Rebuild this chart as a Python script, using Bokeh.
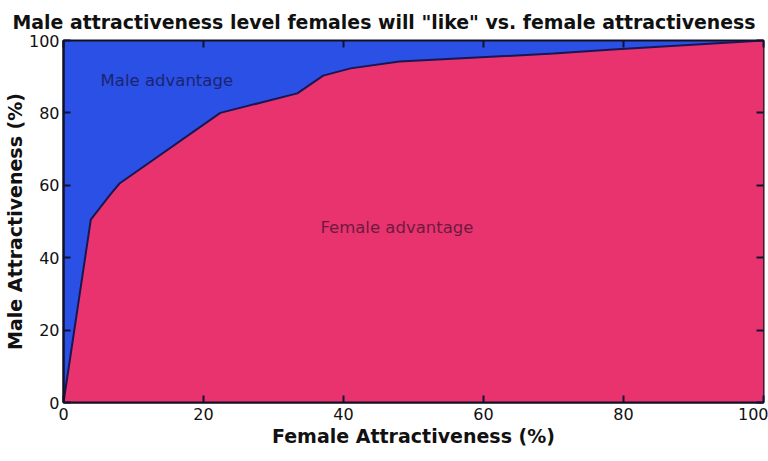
from bokeh.plotting import figure
from bokeh.models import LinearAxis, Range1d, FixedTicker, Label
from bokeh.embed import file_html
from bokeh.resources import INLINE

female_attr = [0, 3.9, 6.7, 8.0, 22.4, 33.4, 37.1, 41.0, 48.0, 70.0, 78.5, 100]
male_attr = [0, 50.5, 57.5, 60.5, 80.0, 85.4, 90.3, 92.3, 94.2, 96.4, 97.5, 100]
ticks = [0, 20, 40, 60, 80, 100]

BLUE = "#2a50e6"
PINK = "#e9336f"
LINE = "#1a1650"
FONT = "DejaVu Sans"

p = figure(width=768, height=461, output_backend="svg", toolbar_location=None,
           x_range=Range1d(0, 100), y_range=Range1d(0, 100),
           title='Male attractiveness level females will "like" vs. female attractiveness')
p.min_border_left = 63
p.min_border_right = 5
p.min_border_top = 8
p.min_border_bottom = 59
p.background_fill_color = BLUE
p.border_fill_color = "white"

p.title.text_font = FONT
p.title.text_font_size = "18.9px"
p.title.text_font_style = "bold"
p.title.align = "left"
p.title.offset = -51
p.title.text_color = "#111111"
p.title.standoff = 16

p.varea(x=female_attr, y1=[0] * len(male_attr), y2=male_attr, fill_color=PINK)
p.line(female_attr, male_attr, line_color=LINE, line_width=2)

p.grid.visible = False
p.outline_line_color = "#111122"
p.outline_line_width = 2

for ax in [p.xaxis[0], p.yaxis[0]]:
    ax.ticker = FixedTicker(ticks=ticks)
    ax.major_tick_in = 7
    ax.major_tick_out = 0
    ax.minor_tick_line_color = None
    ax.axis_line_color = "#111122"
    ax.axis_line_width = 2
    ax.major_tick_line_color = "#111133"
    ax.major_tick_line_width = 2
    ax.major_label_text_font = FONT
    ax.major_label_text_font_size = "16px"
    ax.major_label_text_color = "#111111"
    ax.axis_label_text_font = FONT
    ax.axis_label_text_font_size = "19px"
    ax.axis_label_text_font_style = "bold"
    ax.axis_label_text_color = "#111111"

p.xaxis[0].axis_label = "Female Attractiveness (%)"
p.yaxis[0].axis_label = "Male Attractiveness (%)"
p.xaxis[0].axis_label_standoff = 2
p.yaxis[0].axis_label_standoff = 0
p.xaxis[0].major_label_standoff = 5
p.yaxis[0].major_label_standoff = 4

blank = {t: "" for t in ticks}
top = LinearAxis(ticker=FixedTicker(ticks=ticks), major_label_overrides=blank,
                 major_label_standoff=0,
                 major_tick_in=7, major_tick_out=0, minor_tick_line_color=None,
                 axis_line_color=None, major_tick_line_color="#111133", major_tick_line_width=2)
right = LinearAxis(ticker=FixedTicker(ticks=ticks), major_label_overrides=blank,
                   major_label_standoff=0,
                   major_tick_in=7, major_tick_out=0, minor_tick_line_color=None,
                   axis_line_color=None, major_tick_line_color="#111133", major_tick_line_width=2)
p.add_layout(top, "above")
p.add_layout(right, "right")

p.add_layout(Label(x=5.3, y=89, text="Male advantage", text_font=FONT, text_font_size="16.5px",
                   text_color="#1c2470", text_baseline="middle"))
p.add_layout(Label(x=36.7, y=48.3, text="Female advantage", text_font=FONT, text_font_size="16.5px",
                   text_color="#6e1a3e", text_baseline="middle"))

open("out.html", "w").write(file_html(p, INLINE))
